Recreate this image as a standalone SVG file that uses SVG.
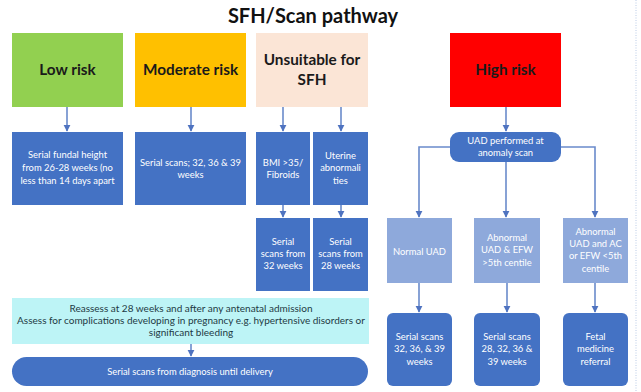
<svg xmlns="http://www.w3.org/2000/svg" width="641" height="392" viewBox="0 0 641 392">
  <style>
    .title { font: bold 20px Lato, "Open Sans", sans-serif; fill: #111; }
    .head { font: bold 15.3px Lato, "Open Sans", sans-serif; fill: #1a1a1a; text-anchor: middle; }
    .small { font: 9.4px Lato, "Open Sans", sans-serif; fill: #ffffff; text-anchor: middle; }
    .note { font: 10px Lato, "Open Sans", sans-serif; fill: #1d3a44; text-anchor: middle; }
    .dark { fill: #4472C4; }
    .light { fill: #8EA9DB; }
    .conn { stroke: #6A8BCB; stroke-width: 1.6; fill: none; }
  </style>
  <defs>
    <marker id="arrow" viewBox="0 0 10 10" refX="9" refY="5" markerWidth="4.5" markerHeight="4.5" orient="auto">
      <path d="M0,0 L10,5 L0,10 z" fill="#4F73C0"/>
    </marker>
  </defs>

  <rect width="641" height="392" fill="#ffffff"/>
  <!-- page edge -->
  <line x1="636" y1="0" x2="636" y2="392" stroke="#B9CBE6" stroke-width="1" stroke-dasharray="1,1.5"/>

  <text class="title" x="313" y="23" text-anchor="middle">SFH/Scan pathway</text>

  <!-- connectors -->
  <g id="connectors" class="conn" marker-end="url(#arrow)">
    <line x1="67" y1="107" x2="67" y2="131"/>
    <line x1="191" y1="107" x2="191" y2="131"/>
    <line x1="283" y1="107" x2="283" y2="131"/>
    <line x1="341" y1="107" x2="341" y2="131"/>
    <line x1="283" y1="205" x2="283" y2="217"/>
    <line x1="341" y1="205" x2="341" y2="217"/>
    <line x1="191" y1="344" x2="191" y2="356"/>
    <line x1="506" y1="107" x2="506" y2="131"/>
    <path d="M450,147 H419 V217"/>
    <path d="M561,147 H595 V217"/>
    <line x1="506" y1="162" x2="506" y2="217"/>
    <line x1="419" y1="283" x2="419" y2="312"/>
    <line x1="507" y1="283" x2="507" y2="312"/>
    <line x1="595" y1="283" x2="595" y2="312"/>
  </g>

  <!-- risk headers -->
  <g id="low-risk">
    <rect x="12" y="33" width="111" height="74" fill="#92D050"/>
    <text class="head" x="67.5" y="75">Low risk</text>
  </g>
  <g id="moderate-risk">
    <rect x="135" y="33" width="111" height="74" fill="#FFC000"/>
    <text class="head" x="190.5" y="75">Moderate risk</text>
  </g>
  <g id="unsuitable">
    <rect x="256" y="33" width="112" height="74" fill="#FBE5D6"/>
    <text class="head" x="312" y="65">Unsuitable for</text>
    <text class="head" x="312" y="85">SFH</text>
  </g>
  <g id="high-risk">
    <rect x="450" y="33" width="111" height="74" fill="#FF0000"/>
    <text class="head" x="505.5" y="75">High risk</text>
  </g>

  <!-- second row -->
  <g id="low-plan">
    <rect class="dark" x="12" y="132" width="111" height="73"/>
    <text class="small" x="67.5" y="158">Serial fundal height</text>
    <text class="small" x="67.5" y="171">from 26-28 weeks (no</text>
    <text class="small" x="67.5" y="184">less than 14 days apart</text>
  </g>
  <g id="moderate-plan">
    <rect class="dark" x="135" y="132" width="111" height="73"/>
    <text class="small" x="190.5" y="166">Serial scans; 32, 36 &amp; 39</text>
    <text class="small" x="190.5" y="178">weeks</text>
  </g>
  <g id="bmi">
    <rect class="dark" x="256" y="132" width="54" height="73"/>
    <text class="small" x="283" y="166">BMI &gt;35/</text>
    <text class="small" x="283" y="178">Fibroids</text>
  </g>
  <g id="uterine">
    <rect class="dark" x="313" y="132" width="55" height="73"/>
    <text class="small" x="340.5" y="159">Uterine</text>
    <text class="small" x="340.5" y="171">abnormali</text>
    <text class="small" x="340.5" y="184">ties</text>
  </g>
  <g id="scans-32">
    <rect class="dark" x="256" y="218" width="54" height="73"/>
    <text class="small" x="283" y="245">Serial</text>
    <text class="small" x="283" y="257">scans from</text>
    <text class="small" x="283" y="269">32 weeks</text>
  </g>
  <g id="scans-28">
    <rect class="dark" x="313" y="218" width="55" height="73"/>
    <text class="small" x="340.5" y="245">Serial</text>
    <text class="small" x="340.5" y="257">scans from</text>
    <text class="small" x="340.5" y="269">28 weeks</text>
  </g>

  <!-- reassessment and outcome -->
  <g id="reassess">
    <rect x="12" y="298" width="357" height="46" fill="#BDF4F6"/>
    <text class="note" x="191" y="312">Reassess at 28 weeks and after any antenatal admission</text>
    <text class="note" x="191" y="324">Assess for complications developing in pregnancy e.g. hypertensive disorders or</text>
    <text class="note" x="191" y="336">significant bleeding</text>
  </g>
  <g id="serial-until-delivery">
    <rect class="dark" x="12" y="357" width="356" height="29" rx="14.5"/>
    <text class="small" x="190" y="374.5">Serial scans from diagnosis until delivery</text>
  </g>

  <!-- high risk branch -->
  <g id="uad">
    <rect class="dark" x="450" y="132" width="111" height="30" rx="9"/>
    <text class="small" x="505.5" y="143.5">UAD performed at</text>
    <text class="small" x="505.5" y="156">anomaly scan</text>
  </g>
  <g id="normal-uad">
    <rect class="light" x="387" y="218" width="65" height="65"/>
    <text class="small" x="419.5" y="255">Normal UAD</text>
  </g>
  <g id="abnormal-uad">
    <rect class="light" x="474" y="218" width="66" height="65"/>
    <text class="small" x="507" y="241">Abnormal</text>
    <text class="small" x="507" y="253">UAD &amp; EFW</text>
    <text class="small" x="507" y="266">&gt;5th centile</text>
  </g>
  <g id="abnormal-uad-ac">
    <rect class="light" x="563" y="218" width="65" height="65"/>
    <text class="small" x="595.5" y="235">Abnormal</text>
    <text class="small" x="595.5" y="247">UAD and AC</text>
    <text class="small" x="595.5" y="259">or EFW &lt;5th</text>
    <text class="small" x="595.5" y="272">centile</text>
  </g>
  <g id="scans-32-36-39">
    <rect class="dark" x="387" y="313" width="65" height="73" rx="6"/>
    <text class="small" x="419.5" y="340">Serial scans</text>
    <text class="small" x="419.5" y="352">32, 36, &amp; 39</text>
    <text class="small" x="419.5" y="365">weeks</text>
  </g>
  <g id="scans-28-32-36-39">
    <rect class="dark" x="474" y="313" width="66" height="73" rx="6"/>
    <text class="small" x="507" y="340">Serial scans</text>
    <text class="small" x="507" y="352">28, 32, 36 &amp;</text>
    <text class="small" x="507" y="365">39 weeks</text>
  </g>
  <g id="fetal-medicine">
    <rect class="dark" x="563" y="313" width="65" height="73" rx="6"/>
    <text class="small" x="595.5" y="340">Fetal</text>
    <text class="small" x="595.5" y="352">medicine</text>
    <text class="small" x="595.5" y="365">referral</text>
  </g>
</svg>
